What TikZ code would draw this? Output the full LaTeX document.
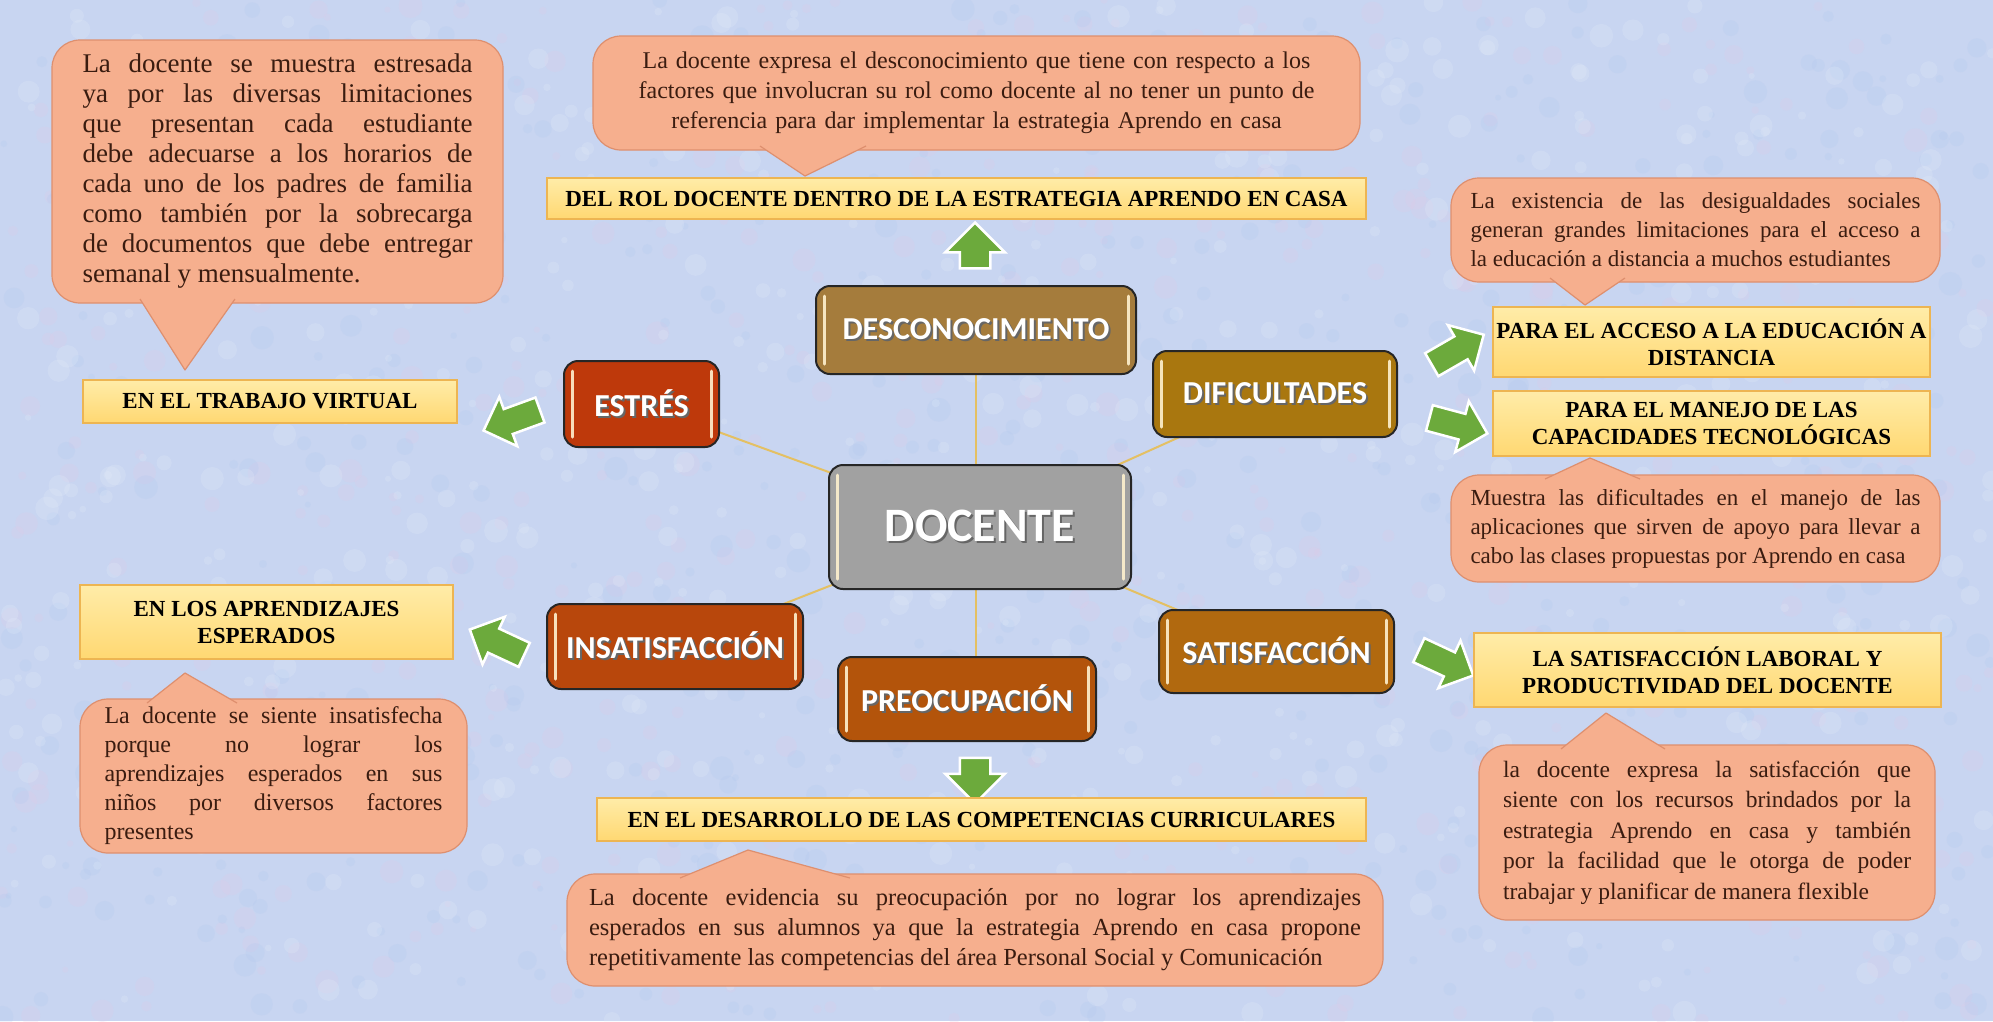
\documentclass[tikz,border=0pt]{standalone}
\usepackage{fontspec}
\setmainfont{Liberation Serif}
\newfontfamily\labelfont{Carlito}
\usetikzlibrary{shapes.arrows}
\hyphenpenalty=10000
\exhyphenpenalty=10000
\definecolor{bgcol}{HTML}{C8D5F1}
\definecolor{spotpink}{HTML}{E3C9E6}
\definecolor{spotblue}{HTML}{AEC6EE}
\definecolor{spotwhite}{HTML}{E6EEFA}
\definecolor{callfill}{HTML}{F6AF8E}
\definecolor{callborder}{HTML}{DE8F6E}
\definecolor{calltext}{HTML}{3A1C10}
\definecolor{boxtop}{HTML}{FFECA8}
\definecolor{boxbot}{HTML}{FFD872}
\definecolor{boxborder}{HTML}{EDB552}
\definecolor{arrowgreen}{HTML}{6CAA3C}
\definecolor{linkgold}{HTML}{E4C063}
\definecolor{cDesc}{HTML}{A57C3C}
\definecolor{cEstres}{HTML}{BE390B}
\definecolor{cDif}{HTML}{A9770F}
\definecolor{cInsat}{HTML}{B8470C}
\definecolor{cPreo}{HTML}{B3540B}
\definecolor{cSatis}{HTML}{B1690F}
\definecolor{cDoc}{HTML}{A1A1A1}
\definecolor{hlcol}{HTML}{FFF1CF}
\pgfdeclarelayer{bglayer}
\pgfdeclarelayer{linklayer}
\pgfsetlayers{bglayer,linklayer,main}
\newcommand\shd[1]{\leavevmode\rlap{\kern2pt\raisebox{-2pt}{\textcolor{black!60}{#1}}}#1}
\newcommand\hilite[1]{%
  \draw[hlline] ([xshift=9pt,yshift=-11pt]#1.north west) -- ([xshift=9pt,yshift=11pt]#1.south west);
  \draw[hlline] ([xshift=-9pt,yshift=-11pt]#1.north east) -- ([xshift=-9pt,yshift=11pt]#1.south east);}
\newcommand\pointer[3]{%
  \fill[callfill] #1 -- #2 -- #3 -- cycle;
  \draw[callborder, line width=1.2pt, line join=round] #1 -- #2 -- #3;}
\tikzset{
  cnode/.style={rounded corners=14pt, draw=black!85, line width=2pt, text=white,
    font=\labelfont\bfseries\fontsize{32}{36}\selectfont, inner sep=0pt},
  ybox/.style={draw=boxborder, line width=1.2pt, top color=boxtop, bottom color=boxbot,
    font=\bfseries\fontsize{23}{27}\selectfont, align=center, inner sep=0pt, text=black},
  callout/.style={fill=callfill, draw=callborder, line width=1.2pt, rounded corners=28pt,
    text=calltext, inner ysep=0pt},
  garrow/.style={single arrow, fill=arrowgreen, draw=white, line width=2.5pt, inner sep=12pt,
    single arrow head extend=13pt, minimum height=60pt},
  link/.style={draw=linkgold, line width=2pt},
  hlline/.style={draw=hlcol, line width=3pt, line cap=round, opacity=0.9},
}
\begin{document}
\begin{tikzpicture}[x=1pt,y=-1pt]
\useasboundingbox (0,0) rectangle (1993,1021);
\begin{pgfonlayer}{bglayer}
\fill[bgcol] (0,0) rectangle (1993,1021);
\pgfmathsetseed{11}
\foreach \c/\o in {spotpink/0.22,spotblue/0.2,spotwhite/0.22} {
  \foreach \i in {1,...,600} {
    \pgfmathsetmacro\xx{rnd*1993}
    \pgfmathsetmacro\yy{rnd*1021}
    \pgfmathsetmacro\rr{3+rnd*9}
    \fill[\c, opacity=\o] (\xx,\yy) circle (\rr pt);
  }
}
\end{pgfonlayer}

% ---------- central nodes ----------
\node[cnode, fill=cDoc, minimum width=302pt, minimum height=124pt,
  font=\labelfont\bfseries\fontsize{48}{52}\selectfont] (doc) at (980,527) {\shd{DOCENTE}};
\node[cnode, fill=cDesc, minimum width=320pt, minimum height=88pt] (desc) at (976,330) {\shd{DESCONOCIMIENTO}};
\node[cnode, fill=cEstres, minimum width=155pt, minimum height=86pt] (estres) at (641.5,404) {\shd{ESTRÉS}};
\node[cnode, fill=cDif, minimum width=244pt, minimum height=86pt] (dif) at (1275,394) {\shd{DIFICULTADES}};
\node[cnode, fill=cInsat, minimum width=256pt, minimum height=85pt] (insat) at (675,646.5) {\shd{INSATISFACCIÓN}};
\node[cnode, fill=cPreo, minimum width=258pt, minimum height=84pt] (preo) at (967,699) {\shd{PREOCUPACIÓN}};
\node[cnode, fill=cSatis, minimum width=235pt, minimum height=83pt] (satis) at (1276.5,651.5) {\shd{SATISFACCIÓN}};
\foreach \n in {doc,desc,estres,dif,insat,preo,satis} {\hilite{\n}}

\begin{pgfonlayer}{linklayer}
\draw[link] (desc.south) -- (desc.south |- doc.north);
\draw[link] (doc.center) -- (estres.center);
\draw[link] (doc.center) -- (dif.center);
\draw[link] (doc.center) -- (insat.center);
\draw[link] ([xshift=-4pt]doc.south) -- ([xshift=-4pt]doc.south |- preo.north);
\draw[link] (doc.center) -- (satis.center);
\end{pgfonlayer}

% ---------- green arrows ----------
\node[garrow, rotate=90, minimum height=42pt, inner sep=14pt, single arrow head extend=14.5pt] (aup) at (975,253) {};
\node[garrow, rotate=270, minimum height=42pt, inner sep=14pt, single arrow head extend=14.5pt] (adown) at (975,773) {};
\node[garrow, rotate=200] (aestres) at (518,418) {};
\node[garrow, rotate=30] (adif1) at (1452,353) {};
\node[garrow, rotate=-15] (adif2) at (1452,424) {};
\node[garrow, rotate=155] (ainsat) at (503,645) {};
\node[garrow, rotate=-25] (asatis) at (1440,660) {};

% ---------- yellow boxes ----------
\node[ybox, minimum width=819pt, minimum height=41pt] (brol) at (956.5,198.5) {DEL ROL DOCENTE DENTRO DE LA ESTRATEGIA APRENDO EN CASA};
\node[ybox, minimum width=374pt, minimum height=43pt] (btrab) at (270,401.5) {EN EL TRABAJO VIRTUAL};
\node[ybox, minimum width=437pt, minimum height=70pt] (bacc) at (1711.5,342) {PARA EL ACCESO A LA EDUCACIÓN A\\DISTANCIA};
\node[ybox, minimum width=437pt, minimum height=65pt] (bman) at (1711.5,423.5) {PARA EL MANEJO DE LAS\\CAPACIDADES TECNOLÓGICAS};
\node[ybox, minimum width=373pt, minimum height=74pt] (bapr) at (266.5,622) {EN LOS APRENDIZAJES\\ESPERADOS};
\node[ybox, minimum width=769pt, minimum height=43pt] (bdes) at (981.5,819.5) {EN EL DESARROLLO DE LAS COMPETENCIAS CURRICULARES};
\node[ybox, minimum width=467pt, minimum height=74pt] (bsat) at (1707.5,670) {LA SATISFACCIÓN LABORAL Y\\PRODUCTIVIDAD DEL DOCENTE};

% ---------- callouts ----------
\node[callout, minimum width=451pt, minimum height=263pt, text width=390pt, inner xsep=30.5pt,
  align=justify, font=\fontsize{27}{30}\selectfont] (cstres) at (277.5,171.5)
  {La docente se muestra estresada\linebreak ya por las diversas limitaciones\linebreak que presentan cada estudiante\linebreak debe adecuarse a los horarios de\linebreak cada uno de los padres de familia\linebreak como también por la sobrecarga\linebreak de documentos que debe entregar\linebreak semanal y mensualmente.};
\pointer{(140,299)}{(185,370)}{(235,299)}

\node[callout, minimum width=767pt, minimum height=114pt, text width=727pt, inner xsep=20pt,
  align=center, font=\fontsize{24}{30}\selectfont] (cdesc) at (976.5,93)
  {La docente expresa el desconocimiento que tiene con respecto a los\\ factores que involucran su rol como docente al no tener un punto de\\ referencia para dar implementar la estrategia Aprendo en casa};
\pointer{(760,146)}{(805,176)}{(866,146)}

\node[callout, minimum width=489pt, minimum height=104pt, text width=450pt, inner xsep=19.5pt,
  align=justify, font=\fontsize{23}{29}\selectfont] (cacc) at (1695.5,230)
  {La existencia de las desigualdades sociales\linebreak generan grandes limitaciones para el acceso a\linebreak la educación a distancia a muchos estudiantes};
\pointer{(1550,278)}{(1585,305)}{(1625,278)}

\node[callout, minimum width=489pt, minimum height=107pt, text width=450pt, inner xsep=19.5pt,
  align=justify, font=\fontsize{23}{29}\selectfont] (cman) at (1695.5,528.5)
  {Muestra las dificultades en el manejo de las\linebreak aplicaciones que sirven de apoyo para llevar a\linebreak cabo las clases propuestas por Aprendo en casa};
\pointer{(1545,479)}{(1590,458)}{(1640,479)}

\node[callout, minimum width=387pt, minimum height=154pt, text width=338pt, inner xsep=24.5pt,
  align=justify, font=\fontsize{24}{29}\selectfont] (cinsat) at (273.5,776)
  {La docente se siente insatisfecha\linebreak porque no lograr los\linebreak aprendizajes esperados en sus\linebreak niños por diversos factores\linebreak presentes};
\pointer{(147,703)}{(185,673)}{(237,703)}

\node[callout, minimum width=816pt, minimum height=112pt, text width=772pt, inner xsep=22pt,
  align=justify, font=\fontsize{24.5}{30}\selectfont] (cpreo) at (975,930)
  {La docente evidencia su preocupación por no lograr los aprendizajes\linebreak esperados en sus alumnos ya que la estrategia Aprendo en casa propone\linebreak repetitivamente las competencias del área Personal Social y Comunicación};
\pointer{(680,878)}{(748,850)}{(850,878)}

\node[callout, minimum width=456pt, minimum height=175pt, text width=408pt, inner xsep=24pt,
  align=justify, font=\fontsize{23.5}{30.5}\selectfont] (csat) at (1707,832.5)
  {la docente expresa la satisfacción que\linebreak siente con los recursos brindados por la\linebreak estrategia Aprendo en casa y también\linebreak por la facilidad que le otorga de poder\linebreak trabajar y planificar de manera flexible};
\pointer{(1561,749)}{(1606,713)}{(1665,749)}
\end{tikzpicture}
\end{document}
